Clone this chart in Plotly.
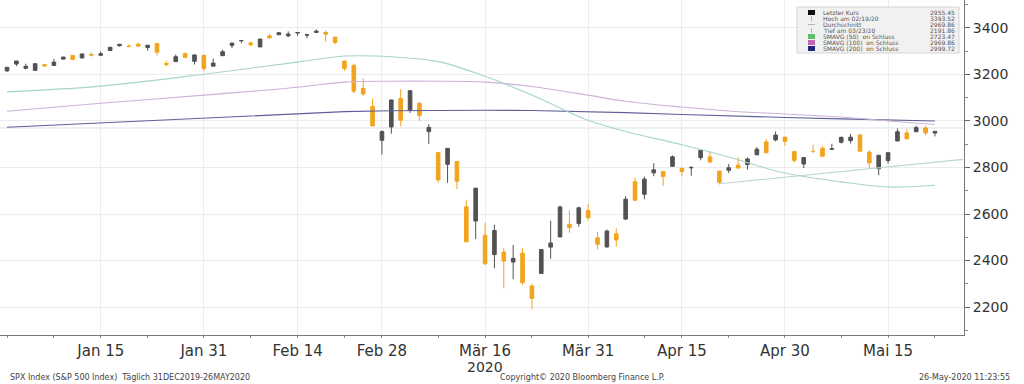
import plotly.graph_objects as go

# ---------------- data ----------------
dates = [
    "2019-12-31", "2020-01-02", "2020-01-03", "2020-01-06", "2020-01-07", "2020-01-08", "2020-01-09",
    "2020-01-10", "2020-01-13", "2020-01-14", "2020-01-15", "2020-01-16", "2020-01-17", "2020-01-21",
    "2020-01-22", "2020-01-23", "2020-01-24", "2020-01-27", "2020-01-28", "2020-01-29", "2020-01-30",
    "2020-01-31", "2020-02-03", "2020-02-04", "2020-02-05", "2020-02-06", "2020-02-07", "2020-02-10",
    "2020-02-11", "2020-02-12", "2020-02-13", "2020-02-14", "2020-02-18", "2020-02-19", "2020-02-20",
    "2020-02-21", "2020-02-24", "2020-02-25", "2020-02-26", "2020-02-27", "2020-02-28", "2020-03-02",
    "2020-03-03", "2020-03-04", "2020-03-05", "2020-03-06", "2020-03-09", "2020-03-10", "2020-03-11",
    "2020-03-12", "2020-03-13", "2020-03-16", "2020-03-17", "2020-03-18", "2020-03-19", "2020-03-20",
    "2020-03-23", "2020-03-24", "2020-03-25", "2020-03-26", "2020-03-27", "2020-03-30", "2020-03-31",
    "2020-04-01", "2020-04-02", "2020-04-03", "2020-04-06", "2020-04-07", "2020-04-08", "2020-04-09",
    "2020-04-13", "2020-04-14", "2020-04-15", "2020-04-16", "2020-04-17", "2020-04-20", "2020-04-21",
    "2020-04-22", "2020-04-23", "2020-04-24", "2020-04-27", "2020-04-28", "2020-04-29", "2020-04-30",
    "2020-05-01", "2020-05-04", "2020-05-05", "2020-05-06", "2020-05-07", "2020-05-08", "2020-05-11",
    "2020-05-12", "2020-05-13", "2020-05-14", "2020-05-15", "2020-05-18", "2020-05-19", "2020-05-20",
    "2020-05-21", "2020-05-22",
]
opens = [
    3215.18, 3244.67, 3226.36, 3217.55, 3241.86, 3238.59, 3266.03, 3281.81, 3271.13, 3285.35,
    3282.27, 3302.97, 3323.66, 3321.03, 3330.02, 3315.77, 3333.10, 3247.16, 3255.35, 3289.46,
    3256.45, 3282.33, 3235.66, 3280.61, 3324.91, 3344.92, 3335.54, 3318.28, 3365.87, 3370.50,
    3365.90, 3378.08, 3369.04, 3380.39, 3380.45, 3360.50, 3257.61, 3238.94, 3139.90, 3062.54,
    2916.90, 2974.28, 3096.46, 3045.75, 3075.70, 2954.20, 2863.89, 2813.48, 2825.60, 2630.86,
    2569.99, 2508.59, 2425.66, 2436.50, 2393.48, 2431.94, 2290.71, 2344.44, 2457.77, 2501.29,
    2555.87, 2558.98, 2614.69, 2498.08, 2458.54, 2514.92, 2578.28, 2738.65, 2685.00, 2776.99,
    2782.46, 2805.10, 2795.64, 2799.34, 2842.43, 2845.62, 2784.81, 2787.89, 2810.42, 2812.64,
    2854.65, 2909.96, 2918.46, 2930.91, 2869.09, 2815.01, 2868.88, 2883.14, 2878.26, 2908.83,
    2915.46, 2939.50, 2865.86, 2794.54, 2829.95, 2913.86, 2948.59, 2953.63, 2969.95, 2948.05,
]
highs = [
    3231.72, 3258.14, 3246.15, 3246.84, 3244.91, 3267.07, 3275.58, 3282.99, 3288.13, 3294.25,
    3298.66, 3317.11, 3329.88, 3329.79, 3337.77, 3326.88, 3333.18, 3258.85, 3285.78, 3293.47,
    3285.91, 3282.33, 3268.44, 3306.92, 3337.58, 3347.96, 3341.42, 3352.26, 3375.63, 3381.47,
    3385.09, 3380.69, 3375.01, 3393.52, 3389.15, 3360.76, 3259.81, 3246.99, 3182.51, 3097.07,
    2959.72, 3090.96, 3136.72, 3130.97, 3083.04, 2985.93, 2863.89, 2882.59, 2825.60, 2660.95,
    2711.33, 2562.98, 2553.93, 2453.57, 2466.97, 2453.01, 2300.73, 2449.71, 2571.42, 2637.01,
    2615.91, 2631.80, 2641.39, 2522.75, 2533.22, 2538.18, 2676.85, 2756.89, 2760.75, 2818.57,
    2782.46, 2851.85, 2801.88, 2806.51, 2879.22, 2868.98, 2785.54, 2815.10, 2844.90, 2842.71,
    2887.72, 2921.15, 2954.86, 2930.91, 2869.09, 2844.24, 2898.23, 2891.11, 2901.92, 2932.16,
    2944.25, 2945.82, 2874.14, 2852.80, 2865.01, 2968.09, 2964.21, 2980.29, 2978.50, 2956.76,
]
lows = [
    3212.03, 3235.53, 3222.34, 3214.64, 3232.43, 3236.67, 3263.67, 3260.86, 3268.43, 3277.19,
    3280.69, 3302.82, 3318.86, 3316.61, 3320.04, 3301.87, 3281.53, 3234.50, 3253.22, 3271.89,
    3242.80, 3214.68, 3235.66, 3280.61, 3313.75, 3334.39, 3322.12, 3317.77, 3352.72, 3369.72,
    3360.52, 3366.15, 3355.61, 3378.83, 3341.02, 3328.45, 3214.65, 3118.77, 3108.99, 2977.39,
    2855.84, 2945.19, 2976.63, 3034.38, 2999.83, 2901.54, 2734.43, 2734.00, 2707.22, 2478.86,
    2492.37, 2380.94, 2367.04, 2280.52, 2319.78, 2295.56, 2191.86, 2344.44, 2407.53, 2500.72,
    2520.02, 2545.28, 2571.15, 2447.49, 2455.79, 2459.96, 2574.57, 2657.67, 2663.30, 2762.36,
    2721.17, 2805.10, 2761.54, 2764.32, 2830.88, 2820.43, 2727.10, 2775.95, 2794.26, 2791.76,
    2852.89, 2860.71, 2912.16, 2892.47, 2821.61, 2797.85, 2863.55, 2847.65, 2876.48, 2902.88,
    2903.44, 2869.59, 2793.15, 2766.64, 2816.78, 2913.86, 2922.35, 2953.63, 2938.57, 2933.59,
]
closes = [
    3230.78, 3257.85, 3234.85, 3246.28, 3237.18, 3253.05, 3274.70, 3265.35, 3288.13, 3283.15,
    3289.29, 3316.81, 3329.62, 3320.79, 3321.75, 3325.54, 3295.47, 3243.63, 3276.24, 3273.40,
    3283.66, 3225.52, 3248.92, 3297.59, 3334.69, 3345.78, 3327.71, 3352.09, 3357.75, 3379.45,
    3373.94, 3380.16, 3370.29, 3386.15, 3373.23, 3337.75, 3225.89, 3128.21, 3116.39, 2978.76,
    2954.22, 3090.23, 3003.37, 3130.12, 3023.94, 2972.37, 2746.56, 2882.23, 2741.38, 2480.64,
    2711.02, 2386.13, 2529.19, 2398.10, 2409.39, 2304.92, 2237.40, 2447.33, 2475.56, 2630.07,
    2541.47, 2626.65, 2584.59, 2470.50, 2526.90, 2488.65, 2663.68, 2659.41, 2749.98, 2789.82,
    2761.63, 2846.06, 2783.36, 2799.55, 2874.56, 2823.16, 2736.56, 2799.31, 2797.80, 2836.74,
    2878.48, 2863.39, 2939.51, 2912.43, 2830.71, 2842.74, 2868.44, 2848.42, 2881.19, 2929.80,
    2930.32, 2870.12, 2820.00, 2852.50, 2863.70, 2953.91, 2922.94, 2971.61, 2948.51, 2955.45,
]

# moving averages at sample dates
ma_dates = ["2019-12-31", "2020-01-15", "2020-01-31", "2020-02-14", "2020-02-24", "2020-03-02",
            "2020-03-09", "2020-03-16", "2020-03-23", "2020-03-31", "2020-04-06", "2020-04-15",
            "2020-04-22", "2020-04-30", "2020-05-08", "2020-05-15", "2020-05-22"]
sma50 = [3125, 3150, 3201, 3253, 3279, 3276, 3255, 3192, 3112, 3003, 2955, 2898, 2845, 2776,
         2738, 2716, 2723.47]
sma100 = [3042, 3076, 3111, 3145, 3167, 3171, 3171, 3167, 3148, 3111, 3085, 3060, 3043, 3030,
          3017, 3000, 2985]
sma200 = [2973, 2992, 3012, 3030, 3040, 3044, 3046, 3046, 3045, 3040, 3036, 3028, 3021, 3015,
          3009, 3004, 2999.72]
average_value = 2969.86
trend_dates = ["2020-04-21", "2020-05-28"]
trend_values = [2730, 2835]

holidays = ["2020-01-01", "2020-01-20", "2020-02-17", "2020-04-10", "2020-05-25"]
x_range = ["2019-12-30 06:00", "2020-05-28 02:24"]
tick_dates = ["2020-01-15", "2020-01-31", "2020-02-14", "2020-02-28", "2020-03-16",
              "2020-03-31", "2020-04-15", "2020-04-30", "2020-05-15"]
tick_labels = ["Jan 15", "Jan 31", "Feb 14", "Feb 28", "Mär 16", "Mär 31", "Apr 15",
               "Apr 30", "Mai 15"]
minor_tick_dates = ["2019-12-31", "2020-01-08", "2020-01-23", "2020-02-07", "2020-02-24",
                    "2020-03-09", "2020-03-23", "2020-04-08", "2020-04-22", "2020-05-08",
                    "2020-05-22"]
y_ticks = [2200, 2400, 2600, 2800, 3000, 3200, 3400]
y_minor = [2100, 2300, 2500, 2700, 2900, 3100, 3300, 3500]

legend_labels = ["Letzter Kurs", "Hoch am 02/19/20", "Durchschnitt", "Tief am 03/23/20",
                 "SMAVG (50)  on Schluss", "SMAVG (100)  on Schluss", "SMAVG (200)  on Schluss"]
legend_values = ["2955.45", "3393.52", "2969.86", "2191.86", "2723.47", "2969.86", "2999.72"]
legend_swatches = ["#111111", None, None, None, "#5cbf6a", "#c466b6", "#23237a"]

# ---------------- styling ----------------
FONT = "DejaVu Sans"
UP = "#525252"
DOWN = "#f2a41e"
C50 = "#a6d4c8"
C100 = "#ccb3d8"
C200 = "#5f5f9a"
CAVG = "#d9e1ea"

fig = go.Figure()

fig.add_trace(go.Scatter(x=ma_dates, y=sma200, mode="lines", line=dict(color=C200, width=1.1),
                         hoverinfo="skip"))
fig.add_trace(go.Scatter(x=ma_dates, y=sma100, mode="lines", line=dict(color=C100, width=1.1, shape="spline"),
                         hoverinfo="skip"))
fig.add_trace(go.Scatter(x=ma_dates, y=sma50, mode="lines", line=dict(color=C50, width=1.1, shape="spline"),
                         hoverinfo="skip"))
fig.add_trace(go.Scatter(x=trend_dates, y=trend_values, mode="lines", line=dict(color="#bcd6cf", width=1.1),
                         hoverinfo="skip"))

fig.add_trace(go.Candlestick(
    x=dates, open=opens, high=highs, low=lows, close=closes,
    increasing=dict(line=dict(color=UP, width=1), fillcolor=UP),
    decreasing=dict(line=dict(color=DOWN, width=1), fillcolor=DOWN),
    whiskerwidth=0,
))

# horizontal average line
fig.add_shape(type="line", xref="paper", yref="y", x0=0, x1=1, y0=average_value, y1=average_value,
              line=dict(color=CAVG, width=1.2), layer="below")

# ---------------- legend box (drawn) ----------------
PW, PH = 964.0, 335.0


def px(xp):
    return xp / PW


def py(yp):
    return (PH - yp) / PH


fig.add_shape(type="rect", xref="paper", yref="paper", x0=px(797), x1=px(959), y0=py(7), y1=py(53),
              fillcolor="#f1f1f1", line=dict(color="#d4d4d4", width=1), layer="above")
for i, (lab, val, sw) in enumerate(zip(legend_labels, legend_values, legend_swatches)):
    ry = 12.5 + i * 6.0
    if sw is not None:
        fig.add_shape(type="rect", xref="paper", yref="paper", x0=px(808), x1=px(815),
                      y0=py(ry - 2.5), y1=py(ry + 2.5), fillcolor=sw, line=dict(width=0))
    elif i == 2:
        fig.add_shape(type="line", xref="paper", yref="paper", x0=px(808), x1=px(815),
                      y0=py(ry), y1=py(ry), line=dict(color="#b5b5b5", width=1))
    else:
        fig.add_shape(type="line", xref="paper", yref="paper", x0=px(811.5), x1=px(811.5),
                      y0=py(ry - 2.5), y1=py(ry + 2.5), line=dict(color="#b5b5b5", width=1))
    fig.add_annotation(xref="paper", yref="paper", x=px(821), y=py(ry), text=lab, showarrow=False,
                       xanchor="left", yanchor="middle", font=dict(family=FONT, size=6, color="#555"))
    fig.add_annotation(xref="paper", yref="paper", x=px(957), y=py(ry), text=val, showarrow=False,
                       xanchor="right", yanchor="middle", font=dict(family=FONT, size=6, color="#555"))

# ---------------- text annotations ----------------
fig.add_annotation(xref="x", yref="paper", x="2020-03-16", y=py(357), text="2020", showarrow=False,
                   xanchor="center", yanchor="top", font=dict(family=FONT, size=14, color="#333"))
fig.add_annotation(xref="paper", yref="paper", x=px(8), y=py(377), showarrow=False,
                   text="SPX Index (S&P 500 Index)  Täglich 31DEC2019-26MAY2020",
                   xanchor="left", yanchor="middle", font=dict(family=FONT, size=8, color="#444"))
fig.add_annotation(xref="paper", yref="paper", x=px(498), y=py(377), showarrow=False,
                   text="Copyright© 2020 Bloomberg Finance L.P.",
                   xanchor="left", yanchor="middle", font=dict(family=FONT, size=8, color="#444"))
fig.add_annotation(xref="paper", yref="paper", x=px(1012), y=py(377), showarrow=False,
                   text="26-May-2020 11:23:55",
                   xanchor="right", yanchor="middle", font=dict(family=FONT, size=8, color="#444"))

fig.update_layout(
    width=1024, height=384,
    margin=dict(l=0, r=60, t=0, b=49),
    paper_bgcolor="white", plot_bgcolor="white",
    showlegend=False,
    boxgap=0.45,
    font=dict(family=FONT, color="#333"),
    xaxis=dict(
        type="date", range=x_range,
        rangebreaks=[dict(bounds=["sat", "mon"]), dict(values=holidays)],
        rangeslider=dict(visible=False),
        tickmode="array", tickvals=tick_dates, ticktext=tick_labels,
        tickfont=dict(family=FONT, size=15, color="#333"),
        ticks="outside", ticklen=2, tickcolor="#888",
        showgrid=True, gridcolor="#ececec", gridwidth=1,
        showline=True, linecolor="#777", linewidth=1,
        minor=dict(tickvals=minor_tick_dates, ticks="outside", ticklen=2, tickcolor="#888", showgrid=False),
        zeroline=False, fixedrange=True,
    ),
    yaxis=dict(
        side="right", range=[2080, 3520],
        tickmode="array", tickvals=y_ticks,
        tickfont=dict(family=FONT, size=14, color="#333"),
        ticks="outside", ticklen=5, tickcolor="#666",
        showgrid=True, gridcolor="#ececec", gridwidth=1,
        showline=True, linecolor="#777", linewidth=1,
        minor=dict(tickvals=y_minor, ticks="outside", ticklen=3, tickcolor="#888", showgrid=False),
        zeroline=False, fixedrange=True,
    ),
)

fig.write_html(
    "out.html",
    config={"displayModeBar": False},
    post_script="document.body.style.margin='0';document.body.style.overflow='hidden';",
)
